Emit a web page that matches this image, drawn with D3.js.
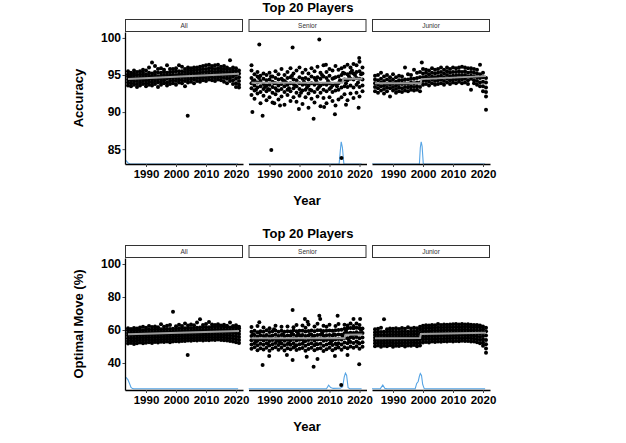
<!DOCTYPE html>
<html>
<head>
<meta charset="utf-8">
<script src="https://cdn.jsdelivr.net/npm/d3@7"></script>
<style>
  body { margin: 0; background: #fff; }
  svg { display: block; font-family: "Liberation Sans", Arial, sans-serif; }
</style>
</head>
<body>
<script>
const facets = ["All", "Senior", "Junior"];
const xTicks = [1990, 2000, 2010, 2020];
const accTicks = [85, 90, 95, 100];
const omTicks = [40, 60, 80, 100];

// accuracy of the top 20 players, per year
const accAll = [
  [1984, [93.6, 94.0, 94.4, 94.8, 95.1, 95.5]],
  [1985, [93.5, 93.9, 94.3, 94.7, 95.0, 95.3]],
  [1986, [93.7, 94.1, 94.5, 94.9, 95.2, 95.6]],
  [1987, [93.4, 93.8, 94.2, 94.6, 95.0, 95.4]],
  [1988, [93.6, 94.0, 94.4, 94.7, 95.1, 95.5]],
  [1989, [93.8, 94.2, 94.5, 94.9, 95.3, 95.7]],
  [1990, [93.5, 93.9, 94.3, 94.7, 95.1, 95.6]],
  [1991, [93.7, 94.1, 94.5, 94.9, 95.3, 96.0]],
  [1992, [93.6, 94.0, 94.4, 94.8, 95.2, 96.7]],
  [1993, [93.8, 94.2, 94.6, 95.0, 95.4, 96.2]],
  [1994, [93.4, 94.0, 94.4, 94.8, 95.3, 95.8]],
  [1995, [93.7, 94.1, 94.5, 94.9, 95.3, 95.9]],
  [1996, [93.9, 94.3, 94.6, 95.0, 95.4, 95.7]],
  [1997, [93.6, 94.0, 94.5, 94.9, 95.3, 96.3]],
  [1998, [93.8, 94.2, 94.6, 95.0, 95.4, 95.8]],
  [1999, [93.9, 94.3, 94.7, 95.0, 95.4, 95.8]],
  [2000, [93.7, 94.2, 94.6, 95.0, 95.5, 95.9]],
  [2001, [94.0, 94.4, 94.8, 95.1, 95.5, 96.3]],
  [2002, [93.9, 94.3, 94.7, 95.1, 95.5, 96.1]],
  [2003, [93.5, 94.2, 94.6, 95.0, 95.4, 95.8]],
  [2004, [94.0, 94.4, 94.8, 95.2, 95.6, 96.0]],
  [2005, [94.1, 94.5, 94.9, 95.3, 95.6, 95.9]],
  [2006, [93.9, 94.4, 94.8, 95.2, 95.6, 96.0]],
  [2007, [94.2, 94.6, 95.0, 95.3, 95.7, 96.0]],
  [2008, [94.1, 94.5, 94.9, 95.3, 95.7, 96.1]],
  [2009, [94.3, 94.7, 95.0, 95.4, 95.8, 96.2]],
  [2010, [94.2, 94.6, 95.0, 95.4, 95.8, 96.3]],
  [2011, [94.4, 94.8, 95.1, 95.5, 95.9, 96.4]],
  [2012, [94.3, 94.7, 95.1, 95.5, 95.9, 96.2]],
  [2013, [94.2, 94.6, 95.0, 95.4, 95.8, 96.3]],
  [2014, [94.4, 94.8, 95.2, 95.5, 95.9, 96.4]],
  [2015, [94.3, 94.7, 95.1, 95.5, 95.8, 96.1]],
  [2016, [94.1, 94.6, 95.0, 95.4, 95.8, 96.2]],
  [2017, [93.9, 94.5, 94.9, 95.3, 95.7, 96.0]],
  [2018, [94.2, 94.6, 95.0, 95.4, 95.8, 97.0]],
  [2019, [93.8, 94.3, 94.8, 95.2, 95.6, 96.0]],
  [2020, [93.4, 93.9, 94.5, 95.0, 95.5, 95.9]],
  [2021, [93.3, 93.7, 94.2, 94.7, 95.2, 95.6]]
];
const accAllOdd = [[2003.9, 89.5]];

const accSenior = [
  [1984, [92.3, 93.2, 93.9, 94.6, 95.6, 96.3]],
  [1985, [91.8, 92.9, 93.6, 94.3, 95.1]],
  [1986, [92.5, 93.3, 94.0, 94.8, 95.4]],
  [1987, [91.2, 92.7, 93.5, 94.2, 94.9]],
  [1988, [92.2, 93.1, 93.8, 94.5, 95.2]],
  [1989, [91.6, 92.8, 93.6, 94.3, 95.0]],
  [1990, [92.0, 93.0, 93.7, 94.4, 95.3]],
  [1991, [91.3, 92.6, 93.4, 94.1, 94.8]],
  [1992, [92.4, 93.2, 93.9, 94.6, 95.5]],
  [1993, [91.7, 92.9, 93.6, 94.4, 95.1]],
  [1994, [92.1, 93.1, 93.8, 94.5, 95.8]],
  [1995, [91.0, 92.7, 93.5, 94.2, 95.0]],
  [1996, [92.3, 93.0, 93.7, 94.6, 95.4]],
  [1997, [91.5, 92.8, 93.9, 94.7, 95.9]],
  [1998, [92.0, 93.2, 93.8, 94.4, 95.2]],
  [1999, [91.4, 92.6, 93.5, 94.3, 95.6]],
  [2000, [92.2, 93.1, 93.9, 94.7, 96.0]],
  [2001, [91.1, 92.9, 93.7, 94.5, 95.3]],
  [2002, [92.0, 93.0, 93.8, 94.6, 95.7]],
  [2003, [90.6, 92.5, 93.6, 94.4, 95.2]],
  [2004, [91.8, 92.9, 93.9, 94.8, 95.9]],
  [2005, [91.3, 92.7, 93.7, 94.6, 95.5]],
  [2006, [92.1, 93.1, 93.9, 94.7, 96.1]],
  [2007, [90.8, 92.6, 93.6, 94.5, 95.3]],
  [2008, [91.9, 93.0, 93.8, 94.8, 96.3]],
  [2009, [91.2, 92.8, 93.7, 94.6, 95.4]],
  [2010, [92.0, 93.1, 93.9, 94.9, 95.8]],
  [2011, [91.5, 92.7, 93.6, 94.5, 95.6]],
  [2012, [90.9, 92.9, 93.8, 94.7, 96.2]],
  [2013, [91.7, 93.0, 93.9, 94.8, 95.7]],
  [2014, [92.0, 93.3, 94.2, 95.0, 95.9]],
  [2015, [92.4, 93.5, 94.4, 95.2, 96.1]],
  [2016, [91.6, 93.4, 94.3, 95.1, 96.4]],
  [2017, [92.5, 93.6, 94.5, 95.3, 96.0]],
  [2018, [91.9, 93.3, 94.4, 95.2, 96.5]],
  [2019, [92.6, 93.7, 94.6, 95.4, 96.3]],
  [2020, [92.1, 93.4, 94.5, 95.5, 96.8]],
  [2021, [92.8, 93.6, 94.4, 95.2, 96.0]]
];
const accSeniorOdd = [
  [1986.6, 99.1], [1997.7, 98.7], [2006.6, 99.8], [1984.3, 90.0], [1987.7, 89.5],
  [2004.7, 89.1], [2011.8, 89.7], [2019.7, 90.6], [1990.6, 84.9], [2014.0, 83.8],
  [2019.9, 97.3], [1991.6, 91.2], [1993.5, 90.9], [1999.8, 90.4], [2008.2, 90.7],
  [2015.5, 91.0], [2008.8, 96.4], [1988.5, 93.4], [1995.5, 94.0], [2002.5, 93.3],
  [2009.5, 94.2], [2012.5, 93.5], [2016.5, 94.8], [2018.5, 95.0], [2000.5, 92.6],
  [1984.5, 94.2], [1985.5, 93.0], [1986.5, 94.6], [1989.5, 93.1], [1990.5, 94.8],
  [1991.5, 93.9], [1992.5, 92.9], [1994.5, 94.3], [1996.5, 93.2], [1997.5, 94.9],
  [1998.5, 93.6], [2001.5, 94.1], [2003.5, 93.0], [2005.5, 94.3], [2006.5, 93.4],
  [2007.5, 95.0], [2010.5, 93.3], [2011.5, 94.6], [2013.5, 94.3], [2014.5, 95.3],
  [2015.5, 93.9], [2017.5, 95.6], [2019.5, 94.0], [2020.5, 95.1]
];

const accJunior = [
  [1984, [92.8, 93.4, 93.9, 94.4, 94.9]],
  [1985, [92.6, 93.2, 93.7, 94.3, 95.0]],
  [1986, [92.9, 93.5, 94.0, 94.5, 95.3]],
  [1987, [92.5, 93.1, 93.6, 94.2, 94.8]],
  [1988, [92.8, 93.3, 93.8, 94.4, 95.0]],
  [1989, [92.1, 93.2, 93.7, 94.2, 94.7]],
  [1990, [92.9, 93.4, 93.9, 94.4, 95.1]],
  [1991, [92.6, 93.1, 93.6, 94.1, 94.7]],
  [1992, [92.8, 93.3, 93.8, 94.3, 94.9]],
  [1993, [92.7, 93.2, 93.8, 94.3, 94.8]],
  [1994, [92.9, 93.4, 93.9, 94.4, 96.0]],
  [1995, [92.8, 93.3, 93.8, 94.4, 95.1]],
  [1996, [93.0, 93.5, 94.0, 94.5, 95.0]],
  [1997, [92.9, 93.4, 93.9, 94.5, 95.7]],
  [1998, [93.0, 93.5, 94.0, 94.6, 95.3]],
  [1999, [92.8, 93.4, 94.0, 94.7, 95.4]],
  [2000, [93.7, 94.2, 94.7, 95.2, 95.8]],
  [2001, [93.8, 94.3, 94.8, 95.3, 95.7]],
  [2002, [93.6, 94.1, 94.6, 95.1, 95.6]],
  [2003, [93.9, 94.4, 94.8, 95.3, 95.9]],
  [2004, [93.7, 94.2, 94.7, 95.2, 95.7]],
  [2005, [93.8, 94.3, 94.8, 95.3, 95.8]],
  [2006, [93.9, 94.4, 94.9, 95.4, 96.0]],
  [2007, [93.7, 94.2, 94.7, 95.2, 95.7]],
  [2008, [94.0, 94.5, 95.0, 95.5, 96.0]],
  [2009, [93.8, 94.3, 94.8, 95.3, 95.8]],
  [2010, [94.0, 94.4, 94.9, 95.4, 96.0]],
  [2011, [93.9, 94.4, 94.9, 95.4, 95.9]],
  [2012, [94.1, 94.5, 95.0, 95.5, 96.0]],
  [2013, [93.9, 94.4, 94.9, 95.4, 96.1]],
  [2014, [94.0, 94.5, 95.0, 95.5, 96.0]],
  [2015, [93.8, 94.3, 94.8, 95.3, 95.9]],
  [2016, [93.0, 94.5, 94.9, 95.4, 95.9]],
  [2017, [93.9, 94.3, 94.8, 95.3, 95.8]],
  [2018, [93.7, 94.2, 94.7, 95.2, 95.7]],
  [2019, [93.5, 94.0, 94.6, 95.1, 96.4]],
  [2020, [92.8, 93.5, 94.1, 94.7, 95.3]],
  [2021, [92.1, 92.7, 93.3, 94.0, 94.6]]
];
const accJuniorOdd = [[1999.6, 96.7], [2021.0, 90.3]];

// optimal move share (%), per year
const omAll = [
  [1984, [51.8, 53.4, 55.0, 56.6, 58.2, 59.8, 61.0]],
  [1985, [52.2, 53.8, 55.3, 56.9, 58.4, 59.9, 60.6]],
  [1986, [51.5, 53.2, 54.9, 56.5, 58.1, 59.6, 61.2]],
  [1987, [52.0, 53.6, 55.2, 56.8, 58.3, 59.8, 60.9]],
  [1988, [52.4, 54.0, 55.5, 57.0, 58.5, 60.0, 61.5]],
  [1989, [51.9, 53.5, 55.1, 56.7, 58.3, 59.9, 62.0]],
  [1990, [52.3, 53.9, 55.4, 57.0, 58.6, 60.2, 61.3]],
  [1991, [52.6, 54.1, 55.6, 57.1, 58.7, 60.3, 62.4]],
  [1992, [52.1, 53.7, 55.3, 56.9, 58.5, 60.1, 61.8]],
  [1993, [52.8, 54.3, 55.8, 57.3, 58.8, 60.4, 62.2]],
  [1994, [52.5, 54.0, 55.6, 57.2, 58.8, 60.3, 61.6]],
  [1995, [52.9, 54.4, 55.9, 57.4, 58.9, 60.5, 63.5]],
  [1996, [52.7, 54.2, 55.7, 57.3, 58.9, 60.4, 62.0]],
  [1997, [53.0, 54.5, 56.0, 57.5, 59.0, 60.6, 62.6]],
  [1998, [52.6, 54.2, 55.8, 57.4, 59.0, 60.6, 63.0]],
  [1999, [53.1, 54.6, 56.1, 57.6, 59.1, 60.7, 71.1]],
  [2000, [53.2, 54.7, 56.2, 57.7, 59.2, 60.8, 62.3]],
  [2001, [53.0, 54.6, 56.2, 57.8, 59.3, 60.9, 63.2]],
  [2002, [53.4, 54.9, 56.4, 57.9, 59.4, 61.0, 62.5]],
  [2003, [53.3, 54.8, 56.3, 57.9, 59.5, 61.1, 64.0]],
  [2004, [53.6, 55.1, 56.6, 58.1, 59.6, 61.2, 62.8]],
  [2005, [53.5, 55.0, 56.5, 58.0, 59.6, 61.2, 63.4]],
  [2006, [53.8, 55.3, 56.8, 58.3, 59.8, 61.3, 62.9]],
  [2007, [53.6, 55.2, 56.7, 58.2, 59.8, 61.4, 64.5]],
  [2008, [53.9, 55.4, 56.9, 58.4, 59.9, 61.5, 66.5]],
  [2009, [53.7, 55.3, 56.8, 58.4, 60.0, 61.6, 63.1]],
  [2010, [54.0, 55.5, 57.0, 58.5, 60.0, 61.6, 63.6]],
  [2011, [53.8, 55.4, 57.0, 58.6, 60.1, 61.7, 64.8]],
  [2012, [54.1, 55.6, 57.1, 58.6, 60.2, 61.8, 63.3]],
  [2013, [53.9, 55.5, 57.1, 58.7, 60.2, 61.8, 63.0]],
  [2014, [54.2, 55.7, 57.2, 58.7, 60.3, 61.9, 63.5]],
  [2015, [54.0, 55.6, 57.2, 58.8, 60.3, 61.9, 62.8]],
  [2016, [53.8, 55.4, 57.0, 58.6, 60.2, 61.8, 63.2]],
  [2017, [53.6, 55.2, 56.8, 58.4, 60.0, 61.6, 62.6]],
  [2018, [53.4, 55.0, 56.6, 58.3, 59.9, 61.5, 64.6]],
  [2019, [53.1, 54.8, 56.5, 58.2, 59.8, 61.4, 62.4]],
  [2020, [52.6, 54.4, 56.2, 58.0, 59.7, 61.3, 62.9]],
  [2021, [52.2, 54.0, 55.8, 57.6, 59.4, 61.0, 62.0]]
];
const omAllOdd = [[2003.9, 44.8]];

const omSenior = [
  [1984, [48.6, 51.2, 53.8, 56.3, 58.9, 61.8]],
  [1985, [49.5, 52.0, 54.5, 57.0, 59.6]],
  [1986, [47.8, 50.8, 53.5, 56.0, 58.6, 62.4]],
  [1987, [49.0, 51.6, 54.2, 56.8, 59.3]],
  [1988, [48.2, 51.0, 53.7, 56.4, 59.0, 61.5]],
  [1989, [49.3, 51.9, 54.4, 57.0, 59.8]],
  [1990, [47.5, 50.6, 53.4, 56.2, 58.8, 61.0]],
  [1991, [48.8, 51.4, 54.0, 56.6, 59.2]],
  [1992, [49.6, 52.1, 54.6, 57.1, 59.7, 62.6]],
  [1993, [48.0, 50.9, 53.6, 56.3, 59.0]],
  [1994, [49.2, 51.8, 54.3, 56.9, 59.5, 61.9]],
  [1995, [47.6, 50.7, 53.5, 56.2, 58.9]],
  [1996, [48.9, 51.5, 54.1, 56.7, 59.3, 62.2]],
  [1997, [48.3, 51.1, 53.8, 56.5, 59.1]],
  [1998, [49.4, 52.0, 54.6, 57.2, 59.8, 61.6]],
  [1999, [47.9, 50.8, 53.6, 56.4, 59.2, 63.0]],
  [2000, [48.7, 51.4, 54.1, 56.8, 59.5]],
  [2001, [49.1, 51.7, 54.3, 56.9, 59.6, 62.8]],
  [2002, [47.4, 50.5, 53.4, 56.3, 59.1, 61.4]],
  [2003, [48.5, 51.3, 54.0, 56.7, 59.4, 63.4]],
  [2004, [49.3, 51.9, 54.5, 57.1, 59.7]],
  [2005, [47.7, 50.7, 53.6, 56.5, 59.3, 62.1]],
  [2006, [48.6, 51.4, 54.2, 57.0, 59.8, 63.8]],
  [2007, [49.0, 51.7, 54.4, 57.1, 59.9]],
  [2008, [47.3, 50.5, 53.5, 56.5, 59.4, 62.6]],
  [2009, [48.4, 51.2, 54.0, 56.8, 59.6, 61.9]],
  [2010, [49.2, 51.8, 54.4, 57.0, 59.7, 63.2]],
  [2011, [47.8, 50.9, 53.8, 56.7, 59.6]],
  [2012, [48.8, 51.6, 54.3, 57.0, 59.8, 62.4]],
  [2013, [49.4, 52.0, 54.6, 57.3, 60.0, 63.6]],
  [2014, [48.1, 51.2, 54.2, 57.2, 60.1]],
  [2015, [49.5, 52.4, 55.2, 58.0, 60.8, 63.2]],
  [2016, [48.9, 52.0, 55.0, 58.0, 61.0, 62.8]],
  [2017, [50.0, 52.8, 55.6, 58.4, 61.2, 64.0]],
  [2018, [49.2, 52.2, 55.2, 58.2, 61.1, 62.5]],
  [2019, [50.2, 53.0, 55.8, 58.6, 61.4, 63.9]],
  [2020, [48.6, 51.8, 55.0, 58.1, 61.0, 63.0]],
  [2021, [49.8, 52.6, 55.4, 58.2, 60.9]]
];
const omSeniorOdd = [
  [1997.7, 72.1], [1986.6, 64.7], [2001.8, 66.7], [2002.7, 65.0], [2006.6, 68.7],
  [2006.9, 66.7], [2012.7, 68.7], [2018.0, 66.7], [2020.2, 66.7], [1987.7, 38.8],
  [1997.7, 41.8], [2004.7, 37.8], [2019.9, 39.2], [1989.9, 44.2], [1995.8, 44.8],
  [2002.4, 43.8], [2006.0, 42.5], [2011.8, 44.2], [2016.0, 44.8], [2013.9, 26.7],
  [1988.5, 55.2], [1993.5, 52.4], [1999.5, 57.8], [2004.5, 55.6], [2010.5, 52.8],
  [2017.5, 57.0], [1984.5, 57.5], [1985.5, 53.0], [1986.5, 58.5], [1989.5, 51.5],
  [1990.5, 56.0], [1991.5, 60.5], [1992.5, 53.5], [1994.5, 57.5], [1996.5, 52.0],
  [1997.5, 58.0], [1998.5, 50.0], [2000.5, 56.5], [2001.5, 53.0], [2003.5, 57.5],
  [2005.5, 51.5], [2007.5, 58.0], [2008.5, 54.5], [2011.5, 57.5], [2012.5, 51.0],
  [2014.5, 56.0], [2015.5, 59.5], [2016.5, 53.5], [2018.5, 57.5], [2019.5, 52.5],
  [2020.5, 60.0]
];

const omJunior = [
  [1984, [50.2, 51.9, 53.6, 55.3, 57.0, 58.7, 60.4]],
  [1985, [50.6, 52.3, 54.0, 55.6, 57.3, 59.0, 60.8]],
  [1986, [49.8, 51.6, 53.4, 55.2, 57.0, 58.8, 61.3]],
  [1987, [50.4, 52.1, 53.8, 55.5, 57.2, 58.9, 66.5]],
  [1988, [50.1, 51.8, 53.5, 55.3, 57.0, 58.8, 60.5]],
  [1989, [50.7, 52.4, 54.1, 55.8, 57.5, 59.2, 60.9]],
  [1990, [49.9, 51.7, 53.5, 55.3, 57.1, 58.9, 60.7]],
  [1991, [50.5, 52.2, 53.9, 55.6, 57.3, 59.0, 61.0]],
  [1992, [50.3, 52.0, 53.7, 55.4, 57.1, 58.8, 60.6]],
  [1993, [50.8, 52.5, 54.2, 55.9, 57.6, 59.3, 61.2]],
  [1994, [50.0, 51.8, 53.6, 55.4, 57.2, 59.0, 60.8]],
  [1995, [50.6, 52.3, 54.0, 55.7, 57.4, 59.1, 61.6]],
  [1996, [50.4, 52.1, 53.8, 55.6, 57.3, 59.0, 60.9]],
  [1997, [50.9, 52.6, 54.3, 56.0, 57.7, 59.4, 61.4]],
  [1998, [50.2, 52.0, 53.8, 55.6, 57.4, 59.2, 61.0]],
  [1999, [50.6, 52.5, 54.4, 56.3, 58.2, 60.1, 62.0]],
  [2000, [52.4, 54.1, 55.8, 57.5, 59.2, 60.9, 62.6]],
  [2001, [52.8, 54.5, 56.2, 57.9, 59.6, 61.3, 62.9]],
  [2002, [52.5, 54.2, 55.9, 57.6, 59.3, 61.0, 62.7]],
  [2003, [53.0, 54.7, 56.4, 58.1, 59.8, 61.5, 63.1]],
  [2004, [52.7, 54.4, 56.1, 57.8, 59.5, 61.2, 62.9]],
  [2005, [53.1, 54.8, 56.5, 58.2, 59.9, 61.6, 63.6]],
  [2006, [52.9, 54.6, 56.3, 58.0, 59.7, 61.4, 63.0]],
  [2007, [53.2, 54.9, 56.6, 58.3, 60.0, 61.7, 63.3]],
  [2008, [53.0, 54.7, 56.4, 58.1, 59.8, 61.5, 63.2]],
  [2009, [53.3, 55.0, 56.7, 58.4, 60.1, 61.8, 63.4]],
  [2010, [53.1, 54.8, 56.5, 58.2, 59.9, 61.6, 63.5]],
  [2011, [53.4, 55.1, 56.8, 58.5, 60.2, 61.9, 63.6]],
  [2012, [53.2, 54.9, 56.6, 58.3, 60.0, 61.7, 63.3]],
  [2013, [53.5, 55.2, 56.9, 58.6, 60.3, 62.0, 63.7]],
  [2014, [53.3, 55.0, 56.7, 58.4, 60.1, 61.8, 63.4]],
  [2015, [53.4, 55.1, 56.8, 58.5, 60.2, 61.9, 63.5]],
  [2016, [53.1, 54.8, 56.5, 58.2, 59.9, 61.6, 63.2]],
  [2017, [53.0, 54.7, 56.4, 58.1, 59.8, 61.5, 63.1]],
  [2018, [52.6, 54.4, 56.2, 58.0, 59.8, 61.6, 63.0]],
  [2019, [52.0, 53.9, 55.8, 57.7, 59.6, 61.5, 62.8]],
  [2020, [50.4, 52.4, 54.4, 56.4, 58.4, 60.4, 62.2]],
  [2021, [46.2, 48.8, 51.4, 54.0, 56.6, 59.2, 61.4]]
];
const omJuniorOdd = [];

// grey fitted lines
const accFitAll = [[1984, 94.45], [2021, 95.18]];
const accFitSenior = [[1984, 93.95], [2014.3, 93.95], [2014.6, 94.5], [2021, 94.5]];
const accFitJunior = [[1984, 93.88], [1999.2, 93.9], [1999.5, 94.45], [2021, 94.85]];
const omFitAll = [[1984, 57.4], [2021, 59.4]];
const omFitSenior = [[1984, 55.0], [2015.0, 55.0], [2015.3, 57.2], [2021, 57.3]];
const omFitJunior = [[1984, 55.0], [1999.0, 55.2], [1999.3, 57.6], [2021, 58.4]];

// blue curves
const accBlueAll = [[1983, 83.6], [1983.5, 83.4], [1984, 83.15], [1984.7, 83.0], [2020.7, 83.0]];
const accBlueSenior = [[1983, 83.0], [2013.2, 83.0], [2013.6, 84.8], [2013.9, 86.0], [2014.3, 85.2], [2014.8, 83.0], [2020.7, 83.0]];
const accBlueJunior = [[1983, 83.0], [1998.8, 83.0], [1999.1, 85.2], [1999.4, 86.0], [1999.7, 85.4], [2000.1, 83.0], [2020.7, 83.0]];
const omBlueAll = [[1983, 31.6], [1983.5, 31.0], [1984, 29.8], [1984.5, 27.6], [1985, 25.2], [1985.5, 24.5], [1986, 24.4], [2020.7, 24.4]];
const omBlueSenior = [[1983, 24.4], [2009, 24.4], [2009.7, 26.6], [2010.4, 25.1], [2011.2, 24.6], [2013.6, 24.7], [2014.4, 25.6],
  [2014.9, 31.5], [2015.3, 33.9], [2015.7, 32.6], [2016.2, 25.0], [2016.8, 24.4], [2020.7, 24.4]];
const omBlueJunior = [[1983, 24.4], [1985.8, 24.5], [1986.6, 26.7], [1987.3, 24.6], [1988, 24.4], [1997.4, 24.4], [1997.9, 27.6],
  [1998.4, 28.8], [1998.8, 32.0], [1999.1, 33.6], [1999.5, 32.4], [1999.9, 27.0], [2000.4, 24.5], [2001, 24.4], [2020.7, 24.4]];

const width = 626, height = 443;
const panelLeft = 125, panelW = 118, panelGap = 5.5;

const svg = d3.select("body").append("svg")
    .attr("width", width)
    .attr("height", height);

const x = d3.scaleLinear().domain([1983, 2022.33]).range([0, panelW]);

const toPoints = (byYear, odd) => {
  const pts = [];
  byYear.forEach(([yr, vals]) => vals.forEach(v => pts.push([yr, v])));
  odd.forEach(p => pts.push(p));
  return pts;
};

let clipCount = 0;

const drawChart = (cfg) => {
  const y = d3.scaleLinear().domain(cfg.domain).range([cfg.bottom, cfg.top]);

  svg.append("text")
      .attr("x", 308).attr("y", cfg.titleY)
      .attr("text-anchor", "middle")
      .attr("font-size", 13).attr("font-weight", "bold")
      .text("Top 20 Players");

  svg.append("text")
      .attr("transform", `translate(83,${(cfg.top + cfg.bottom) / 2}) rotate(-90)`)
      .attr("text-anchor", "middle")
      .attr("font-size", 13).attr("font-weight", "bold")
      .text(cfg.yLabel);

  svg.append("text")
      .attr("x", 307).attr("y", cfg.bottom + 41)
      .attr("text-anchor", "middle")
      .attr("font-size", 13).attr("font-weight", "bold")
      .text("Year");

  facets.forEach((name, i) => {
    const g = svg.append("g")
        .attr("transform", `translate(${panelLeft + i * (panelW + panelGap)},0)`);

    // strip
    g.append("rect")
        .attr("x", 0.5).attr("y", cfg.top - 12.5)
        .attr("width", panelW - 1).attr("height", 12)
        .attr("fill", "#fff").attr("stroke", "#333").attr("stroke-width", 1);
    g.append("text")
        .attr("x", panelW / 2).attr("y", cfg.top - 6.5)
        .attr("dy", "0.35em")
        .attr("text-anchor", "middle")
        .attr("font-size", 6.5).attr("fill", "#333")
        .text(name);

    const id = "clip" + (clipCount++);
    g.append("clipPath").attr("id", id)
      .append("rect")
        .attr("x", 0).attr("y", cfg.top)
        .attr("width", panelW).attr("height", cfg.bottom - cfg.top);

    const plot = g.append("g").attr("clip-path", `url(#${id})`);
    const line = d3.line().x(d => x(d[0])).y(d => y(d[1]));

    plot.append("path")
        .attr("d", line(cfg.blue[i]))
        .attr("fill", "none")
        .attr("stroke", "#56a4e4")
        .attr("stroke-width", 1.1);

    plot.append("g")
      .selectAll("circle")
      .data(toPoints(cfg.points[i], cfg.odd[i]))
      .join("circle")
        .attr("cx", d => x(d[0]))
        .attr("cy", d => y(d[1]))
        .attr("r", 2)
        .attr("fill", "#000");

    plot.append("path")
        .attr("d", line(cfg.fit[i]))
        .attr("fill", "none")
        .attr("stroke", "#9c9c9c")
        .attr("stroke-width", 2);

    if (i === 0) {
      const ya = g.append("g")
          .call(d3.axisLeft(y).tickValues(cfg.ticks).tickSize(2.5).tickPadding(1.5).tickSizeOuter(0));
      ya.select(".domain").attr("stroke", "#000").attr("stroke-width", 1.3);
      ya.selectAll(".tick line").attr("stroke", "#444");
      ya.selectAll("text")
          .attr("font-size", 12).attr("font-weight", "bold")
          .attr("font-family", "Liberation Sans, Arial, sans-serif")
          .attr("fill", "#000");
    }

    const xa = g.append("g")
        .attr("transform", `translate(0,${cfg.bottom})`)
        .call(d3.axisBottom(x).tickValues(xTicks).tickFormat(d3.format("d"))
          .tickSize(3).tickPadding(3).tickSizeOuter(0));
    xa.select(".domain").attr("stroke", "#000").attr("stroke-width", 1.3);
    xa.selectAll(".tick line").attr("stroke", "#444");
    xa.selectAll("text")
        .attr("font-size", 11.5).attr("font-weight", "bold")
        .attr("font-family", "Liberation Sans, Arial, sans-serif")
        .attr("fill", "#000");
  });
};

drawChart({
  top: 32, bottom: 164, titleY: 12,
  domain: [83.0, 100.8], ticks: accTicks, yLabel: "Accuracy",
  points: [accAll, accSenior, accJunior],
  odd: [accAllOdd, accSeniorOdd, accJuniorOdd],
  fit: [accFitAll, accFitSenior, accFitJunior],
  blue: [accBlueAll, accBlueSenior, accBlueJunior]
});

drawChart({
  top: 258, bottom: 390, titleY: 238,
  domain: [23.64, 103.64], ticks: omTicks, yLabel: "Optimal Move (%)",
  points: [omAll, omSenior, omJunior],
  odd: [omAllOdd, omSeniorOdd, omJuniorOdd],
  fit: [omFitAll, omFitSenior, omFitJunior],
  blue: [omBlueAll, omBlueSenior, omBlueJunior]
});
</script>
</body>
</html>
